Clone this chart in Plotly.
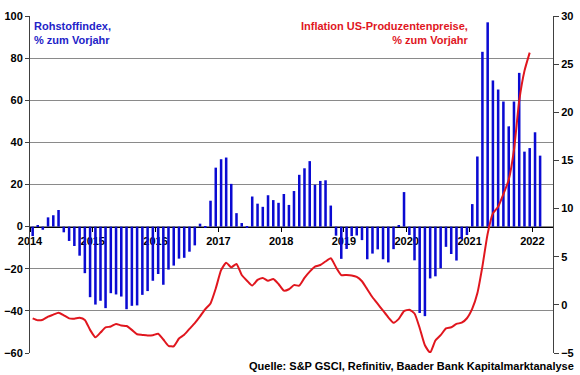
import pandas as pd
import plotly.graph_objects as go

# Rohstoffindex (S&P GSCI), % zum Vorjahr, monthly Jan 2014 - Feb 2022
commodity_yoy = [
    -4.5, 0.3, -1.5, 4.4, 5.4, 7.9, -2.7, -6.8, -9.2, -13.8, -22.1, -33.5,      # 2014
    -37.0, -35.2, -38.7, -31.6, -32.2, -33.2, -39.2, -37.6, -37.4, -32.4, -30.6, -25.7,  # 2015
    -22.5, -27.6, -20.4, -18.5, -15.2, -14.8, -11.9, -8.9, 1.4, -0.5, 12.3, 28.0,  # 2016
    32.0, 32.8, 20.3, 6.4, 1.7, -0.3, 14.3, 10.9, 9.4, 14.9, 12.6, 11.3,          # 2017
    15.5, 10.3, 16.9, 24.6, 27.7, 31.1, 19.9, 21.7, 22.0, 10.0, -4.3, -15.3,      # 2018
    -10.6, -4.5, -4.2, -6.4, -15.5, -12.8, -10.8, -15.5, -17.0, -10.7, 0.3, 16.4, # 2019
    -4.0, -16.0, -41.0, -42.5, -24.6, -23.6, -19.8, -9.6, -13.0, -16.1, -6.0, -4.0,  # 2020
    10.7, 33.3, 83.0, 97.0, 69.4, 65.1, 59.4, 47.6, 59.4, 73.0, 35.6, 37.3,       # 2021
    44.8, 33.7,                                                                   # 2022
]

# Inflation US-Produzentenpreise, % zum Vorjahr, monthly Jan 2014 - Dec 2021
ppi_yoy = [
    -1.4, -1.6, -1.55, -1.22, -1.02, -0.81, -1.08, -1.4, -1.43, -1.35, -1.57, -2.6,  # 2014
    -3.37, -2.88, -2.35, -2.25, -1.98, -2.15, -2.2, -2.6, -3.05, -3.12, -3.18, -3.15,  # 2015
    -3.0, -3.6, -4.25, -4.3, -3.5, -3.1, -2.5, -1.9, -1.2, -0.45, 0.15, 1.7,        # 2016
    3.6, 4.38, 3.9, 4.25, 3.1, 2.51, 2.0, 2.6, 2.79, 2.5, 2.69, 2.17,               # 2017
    1.48, 1.62, 2.05, 2.0, 2.8, 3.45, 3.97, 4.14, 4.5, 4.84, 3.9, 3.1,              # 2018
    3.1, 3.05, 2.9, 2.45, 1.62, 0.79, 0.1, -0.6, -1.3, -1.85, -1.45, -0.65,         # 2019
    -0.5, -0.9, -2.4, -4.2, -4.96, -3.7, -3.15, -2.45, -2.33, -1.98, -1.85, -1.39,  # 2020
    -0.4, 1.2, 4.0, 7.4, 9.5, 10.2, 11.5, 13.0, 16.1, 21.2, 24.3, 26.2,             # 2021
]

commodity_months = pd.date_range("2014-01-01", periods=len(commodity_yoy), freq="MS")
ppi_months = pd.date_range("2014-01-01", periods=len(ppi_yoy), freq="MS")

FONT = "Liberation Sans, Arial, sans-serif"

fig = go.Figure()
fig.add_trace(go.Bar(
    x=commodity_months, y=commodity_yoy,
    xperiod="M1", xperiodalignment="middle",
    marker=dict(color="#0a0ad2", line_width=0),
    yaxis="y", showlegend=False,
))
fig.add_trace(go.Scatter(
    x=ppi_months, y=ppi_yoy,
    xperiod="M1", xperiodalignment="middle",
    mode="lines",
    line=dict(color="#e0161e", width=2, shape="spline", smoothing=0.5),
    yaxis="y2", showlegend=False,
))

tickfont = dict(family=FONT, size=11, color="black", weight="bold")

fig.update_layout(
    template="none",
    width=580, height=375,
    margin=dict(l=30, r=27, t=16, b=22, autoexpand=False),
    paper_bgcolor="white", plot_bgcolor="white",
    bargap=0.5,
    font=dict(family=FONT),
    showlegend=False,
    xaxis=dict(
        type="date", automargin=False,
        range=["2014-01-01", "2022-05-01"],
        anchor="free", position=0.375,
        tick0="2014-01-01", dtick="M12", tickformat="%Y",
        ticks="outside", ticklen=4, tickcolor="black",
        showline=True, linecolor="black", linewidth=1,
        showgrid=False, zeroline=False,
        tickfont=tickfont,
        layer="below traces",
    ),
    yaxis=dict(
        automargin=False,
        range=[-60, 100], dtick=20,
        showgrid=True, gridcolor="#8a8a8a", gridwidth=1,
        showline=True, linecolor="#404040", linewidth=1,
        ticks="outside", ticklen=4, tickcolor="#404040",
        zeroline=False,
        tickfont=tickfont,
    ),
    yaxis2=dict(
        automargin=False,
        overlaying="y", side="right",
        range=[-5, 30], dtick=5,
        showgrid=False, zeroline=False,
        showline=True, linecolor="#404040", linewidth=1,
        ticks="outside", ticklen=5, tickcolor="#404040",
        tickfont=tickfont,
    ),
    annotations=[
        dict(
            text="<b>Rohstoffindex,<br>% zum Vorjahr</b>",
            xref="paper", yref="paper", x=0.004, y=0.995,
            xanchor="left", yanchor="top", align="left", showarrow=False,
            font=dict(family=FONT, size=11, color="#2323c8"),
        ),
        dict(
            text="<b>Inflation US-Produzentenpreise,<br>% zum Vorjahr</b>",
            xref="paper", yref="paper", x=0.843, y=0.995,
            xanchor="right", yanchor="top", align="right", showarrow=False,
            font=dict(family=FONT, size=11, color="#e0161e"),
        ),
        dict(
            text="<b>Quelle: S&amp;P GSCI, Refinitiv, Baader Bank Kapitalmarktanalyse</b>",
            xref="paper", yref="paper", x=1.044, y=-0.039,
            xanchor="right", yanchor="middle", showarrow=False,
            font=dict(family=FONT, size=11, color="black"),
        ),
    ],
)

fig.write_html(
    "out.html",
    config={"displayModeBar": False},
    post_script="document.body.style.margin='0px';",
)
